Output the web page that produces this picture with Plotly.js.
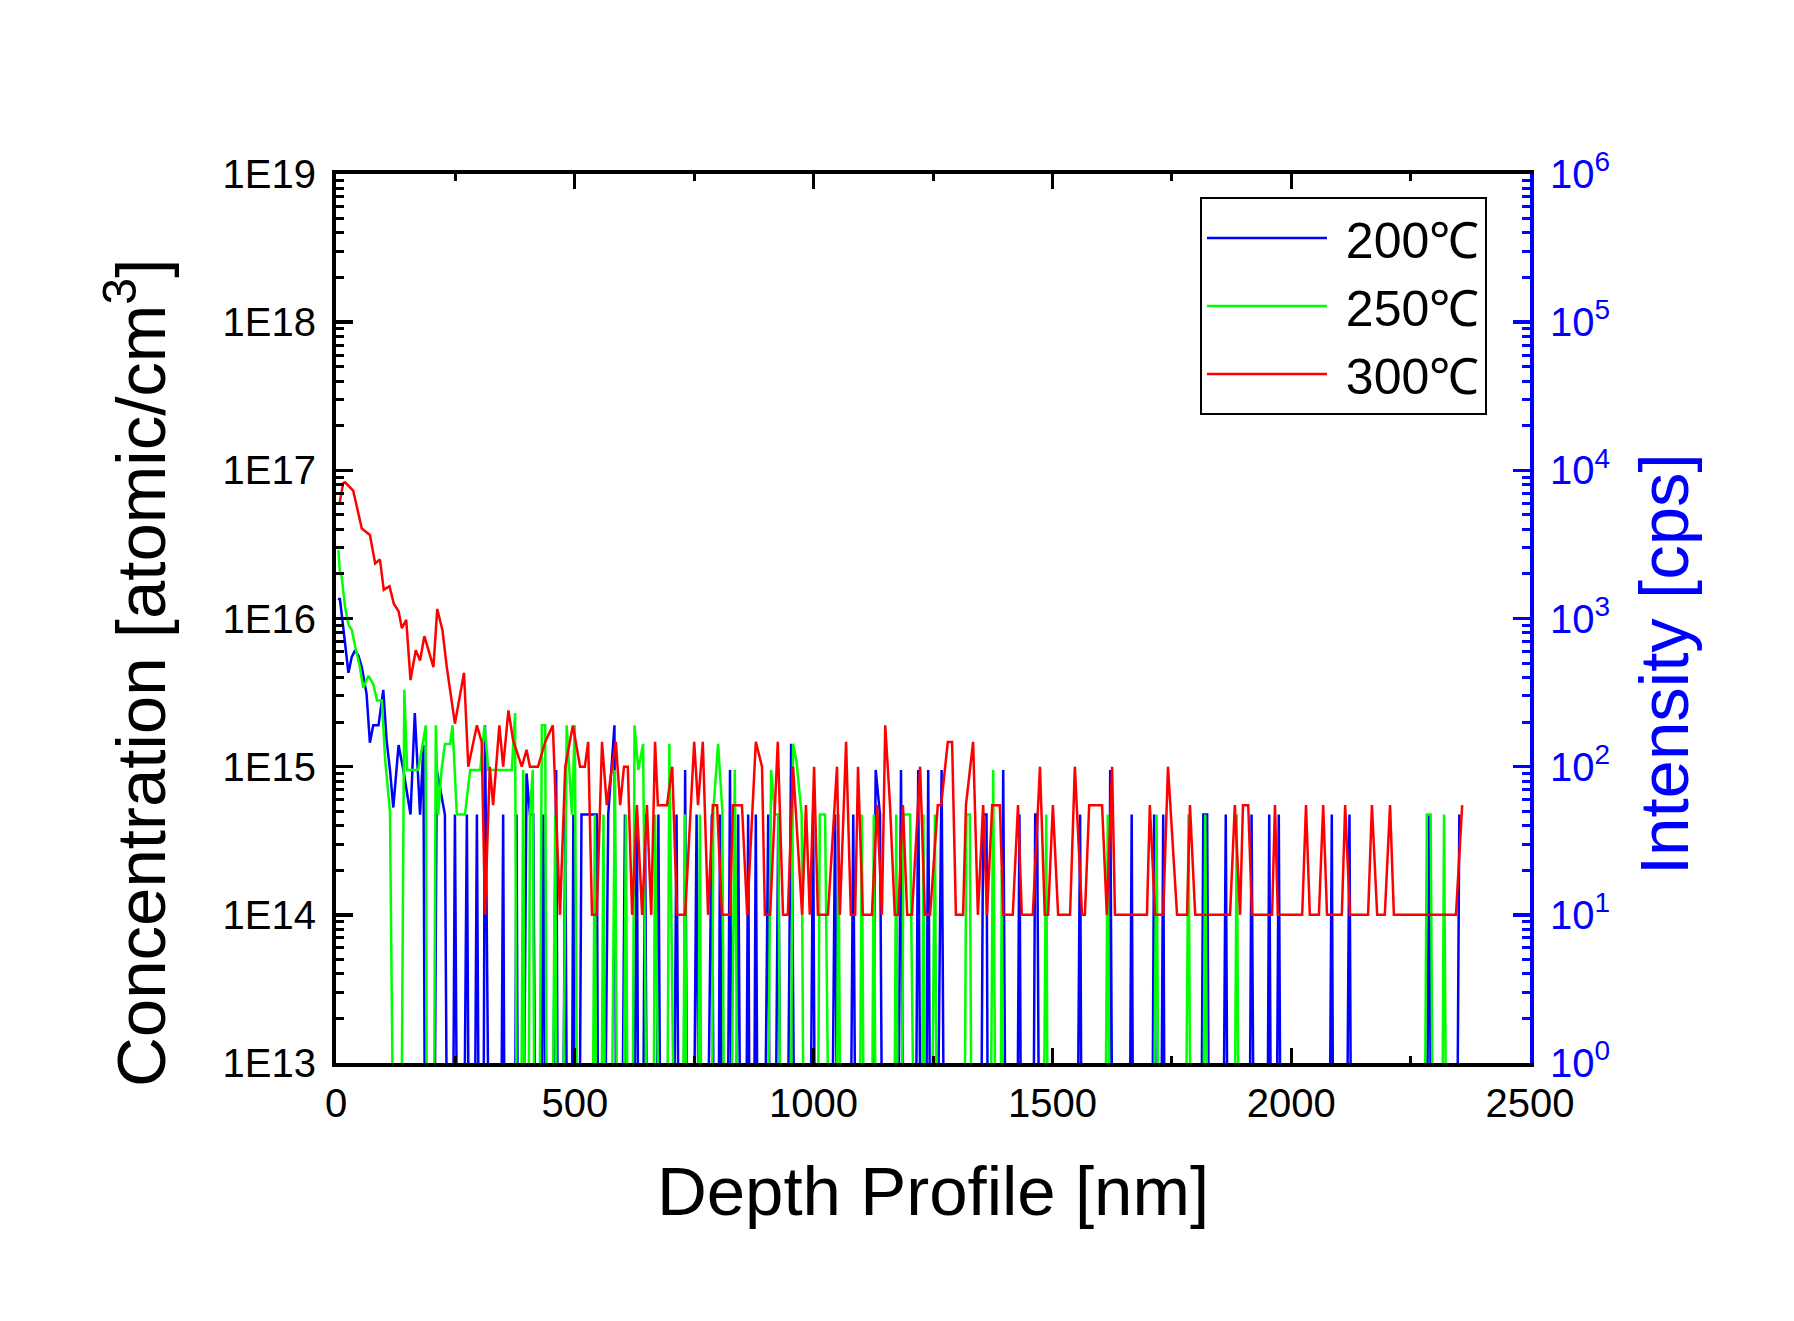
<!DOCTYPE html>
<html>
<head>
<meta charset="utf-8">
<script src="https://cdn.plot.ly/plotly-3.0.1.min.js"></script>
<style>html,body{margin:0;padding:0;background:#fff;}#chart{width:1794px;height:1321px;}</style>
</head>
<body>
<div id="chart"></div>
<script>
// Depth in nm, concentration in units of 1E14 atomic/cm3 (0 = below the axis floor)
const seriesNames = ['200℃', '250℃', '300℃'];
const seriesColors = ['#0000FF', '#00FF00', '#FF0000'];

const depth200 = [5,8,15,19,26,33,40,47,54,64, 71,78,89,99,106,113,120,131,141,156, 165,176,183,190,200,211,228,239,249,260,
  274,284,295,305,312,329,340,350,357,370, 378,385,399,406,413,424,434,445,461,469, 480,489,497,504,514,546,553,570,583,591,
  605,616,630,637,647,657,667,675,685,700, 713,724,731,741,755,766,787,797,804,814, 825,832,842,853,863,870,879,888,905,912,
  926,937,953,968,985,999,1008,1030,1045,1055, 1070,1083,1094,1115,1130,1139,1150,1170,1183,1195, 1208,1219,1230,1240,1249,1268,1279,1345,1355,1362,
  1369,1385,1397,1408,1420,1431,1439,1455,1464,1468, 1478,1545,1558,1565,1614,1621,1631,1656,1666,1673, 1704,1713,1722,1732,1739,1806,1816,1824,1833,1851,
  1863,1872,1907,1917,1928,1945,1954,1963,1974,1983, 2074,2085,2092,2109,2122,2130,2277,2289,2298,2341, 2352];
const conc200 = [133,137,88,68,43,55,61,56,47,31, 14.5,19,19,33,15,9.5,5.3,14,9.5,4.75, 23,4.75,14,0,0,9.5,4.75,0,4.75,0,
  4.75,0,4.75,0,19,0,0,4.75,0,0, 4.75,0,9,4.75,4.75,0,4.75,0,9.5,0, 4.75,0,4.75,0,4.75,4.75,0,4.75,19,0,
  4.75,0,4.75,0,4.75,0,0,4.75,0,0, 4.75,0,9.5,0,4.75,0,4.75,0,4.75,0, 9.5,0,4.75,0,4.75,0,4.75,0,4.75,0,
  4.75,0,14.25,0,0,4.75,0,0,4.75,0, 0,4.75,0,0,9.5,4.75,0,0,9.5,0, 0,9.5,0,9.5,0,9.5,0,0,4.75,4.75,
  0,0,9.5,0,0,4.75,0,0,4.75,4.75, 0,0,4.75,0,0,9.5,0,0,4.75,0, 0,4.75,0,4.75,0,0,4.75,4.75,0,0,
  4.75,0,0,4.75,0,0,4.75,0,4.75,0, 0,4.75,0,0,4.75,0,0,4.75,0,0, 4.75];

const depth250 = [5,8,12,19,26,33,40,50,57,68, 78,86,96,103,113,120,130,143,149,172, 188,193,200,209,214,221,228,239,244,253,
  270,281,302,311,319,368,375,382,392,399, 406,412,420,431,438,445,459,466,483,494, 500,511,530,542,549,560,568,584,595,607,
  616,625,633,643,651,660,668,677,688,698, 708,720,731,738,752,762,769,783,790,800, 809,818,835,849,895,911,919,926,937,946,
  957,964,975,985,1003,1013,1024,1034,1043,1052, 1062,1090,1101,1111,1117,1126,1136,1163,1173,1181, 1188,1202,1212,1222,1230,1238,1254,1263,1310,1320,
  1327,1336,1364,1376,1387,1394,1403,1474,1487,1495, 1603,1616,1625,1704,1718,1729,1771,1785,1795,1810, 1820,1831,1875,1886,1896,2273,2284,2292,2303,2311,
  2320,2331];
const conc250 = [290,210,190,120,91,84,65,47,34,41, 36,28,28,11,5,0,0,33,9.5,9.5, 19,0,0,19,4.75,9.5,14.25,14.25,19,4.75,
  4.75,9.5,9.5,19,9.5,9.5,23,0,9.5,0, 4.75,9.5,0,19,19,0,4.75,0,19,4.75, 19,0,0,4.75,0,4.75,0,9.5,0,4.75,
  0,19,9.5,14.25,0,0,4.75,0,0,14.25, 0,0,4.75,0,0,4.75,0,0,5,14.25, 5,0,9.5,0,0,9.5,4.75,4.75,0,0,
  14.25,11,4.75,0,0,4.75,4.75,0,0,4.75, 0,0,4.75,0,0,4.75,0,0,4.75,0, 4.75,4.75,0,0,4.75,0,4.75,0,0,4.75,
  4.75,0,0,9.5,0,2,0,0,4.75,0, 0,4.75,0,0,4.75,0,0,4.75,0,0, 4.75,0,0,4.75,0,0,4.75,4.75,0,0,
  4.75,0];

const depth300 = [8,15,19,36,54,71,82,92,100,112, 121,131,138,147,156,167,176,185,204,212, 223,232,249,268,277,295,305,312,322,329,
  342,350,361,371,389,399,406,423,438,454, 469,480,496,511,521,528,536,546,557,567, 578,586,595,603,611,620,630,641,651,660,
  668,674,693,704,714,731,750,758,768,779, 789,798,808,825,831,850,861,879,892,898, 909,925,936,946,957,976,984,992,1001,1009,
  1030,1049,1055,1068,1078,1087,1093,1103,1122,1133, 1143,1150,1160,1170,1177,1187,1196,1206,1223,1233, 1244,1260,1267,1281,1290,1298,1313,1319,1334,1344,
  1355,1363,1374,1390,1397,1417,1428,1436,1459,1474, 1484,1491,1501,1512,1537,1547,1562,1568,1577,1604, 1614,1625,1631,1662,1698,1704,1715,1732,1742,1761,
  1782,1788,1799,1872,1882,1893,1899,1910,1918,1960, 1966,1972,2023,2031,2039,2058,2067,2075,2106,2113, 2123,2161,2169,2180,2196,2207,2215,2345,2358];
const conc300 = [610,820,830,730,405,366,235,250,156,165, 126,112,86,98,38.4,61,52,76,47,116, 83,47,19.5,43,10,19,14.7,1,10,5.5,
  19,10,24,15,10,13,10,10,14.7,19, 1,10,19,10,10,14.7,1,1,14.7,5.5, 10,14.7,5.5,10,10,1,5.5,1,5.5,1,
  14.7,5.5,5.5,10,1,1,14.7,5.5,14.7,1, 5.5,5.5,1,1,5.5,5.5,1,14.7,10,1, 1,14.7,1,1,10,1,5.5,1,10,1,
  1,10,1,14.7,1,1,10,1,1,5.5, 1,19,5.5,1,1,5.5,1,1,10,1, 1,5.5,5.5,14.7,14.7,1,1,5.5,14.7,1,
  5.5,1,5.5,5.5,1,1,5.5,1,1,10, 1,1,5.5,1,1,10,1,1,5.5,5.5, 1,10,1,1,1,5.5,1,1,10,1,
  1,5.5,1,1,5.5,1,5.5,5.5,1,1, 5.5,1,1,5.5,1,1,5.5,1,1,5.5, 1,1,5.5,1,1,5.5,1,1,5.5];

// Axis tick labels and titles
const leftTickVals = [1e13,1e14,1e15,1e16,1e17,1e18,1e19];
const leftTickText = ['1E13','1E14','1E15','1E16','1E17','1E18','1E19'];
const rightTickVals = [1,10,100,1000,10000,100000,1000000];
const rightTickText = ['10<sup>0</sup>','10<sup>1</sup>','10<sup>2</sup>','10<sup>3</sup>','10<sup>4</sup>','10<sup>5</sup>','10<sup>6</sup>'];
const xTitle = 'Depth Profile [nm]';
const leftTitle = 'Concentration [atomic/cm<sup>3</sup>]';
const rightTitle = 'Intensity [cps]';

const UNIT = 1e14;
const FLOOR = 1e9; // zero counts: drawn below the axis floor and clipped
const toConc = arr => arr.map(v => v > 0 ? v * UNIT : FLOOR);

function minorLog(lo, hi) {
  const out = [];
  for (let e = lo; e < hi; e++) for (let m = 2; m <= 9; m++) out.push(m * Math.pow(10, e));
  return out;
}

const depths = [depth200, depth250, depth300];
const concs = [conc200, conc250, conc300];
const traces = depths.map((d, i) => ({
  type: 'scatter', mode: 'lines', x: d, y: toConc(concs[i]), name: '\u00a0' + seriesNames[i],
  line: {color: seriesColors[i], width: 2.5}, hoverinfo: 'skip'
}));
traces.push({type: 'scatter', mode: 'lines', x: [], y: [], yaxis: 'y2', showlegend: false, hoverinfo: 'skip'});

const FONT = 'Arial, "Liberation Sans", sans-serif';
const layout = {
  width: 1794, height: 1321,
  margin: {l: 336, r: 264, t: 174, b: 258, pad: 0},
  paper_bgcolor: '#fff', plot_bgcolor: '#fff',
  font: {family: FONT, color: '#000', size: 40},
  hovermode: false,
  showlegend: true,
  legend: {
    x: 0.7236, y: 0.974, xanchor: 'left', yanchor: 'top',
    bgcolor: '#fff', bordercolor: '#000', borderwidth: 2,
    font: {family: FONT, size: 50, color: '#000'},
    itemwidth: 120, tracegroupgap: 0
  },
  xaxis: {
    range: [0, 2500], tickmode: 'linear', tick0: 0, dtick: 500,
    ticks: 'inside', ticklen: 15, tickwidth: 3, tickcolor: '#000',
    minor: {dtick: 250, tick0: 0, ticks: 'inside', ticklen: 7, tickwidth: 3, tickcolor: '#000', showgrid: false},
    showline: true, linewidth: 4, linecolor: '#000', mirror: 'ticks',
    showgrid: false, zeroline: false,
    tickfont: {family: FONT, size: 40, color: '#000'},
    ticklabelstandoff: 2,
    title: {text: xTitle, font: {family: FONT, size: 69, color: '#000'}, standoff: 44},
    automargin: false
  },
  yaxis: {
    type: 'log', range: [13, 19],
    tickmode: 'array', tickvals: leftTickVals, ticktext: leftTickText,
    ticks: 'inside', ticklen: 17, tickwidth: 3.5, tickcolor: '#000',
    minor: {tickmode: 'array', tickvals: minorLog(13, 19), ticks: 'inside', ticklen: 8, tickwidth: 3, tickcolor: '#000', showgrid: false},
    showline: true, linewidth: 4, linecolor: '#000', mirror: false,
    showgrid: false, zeroline: false,
    tickfont: {family: FONT, size: 40, color: '#000'},
    ticklabelstandoff: 8,
    automargin: false
  },
  yaxis2: {
    type: 'log', range: [0, 6], overlaying: 'y', side: 'right', anchor: 'x',
    tickmode: 'array', tickvals: rightTickVals, ticktext: rightTickText,
    ticks: 'inside', ticklen: 17, tickwidth: 3.5, tickcolor: '#0000FF',
    minor: {tickmode: 'array', tickvals: minorLog(0, 6), ticks: 'inside', ticklen: 8, tickwidth: 3, tickcolor: '#0000FF', showgrid: false},
    showline: true, linewidth: 4, linecolor: '#0000FF',
    showgrid: false, zeroline: false,
    tickfont: {family: FONT, size: 40, color: '#0000FF'},
    ticklabelstandoff: 8,
    automargin: false
  },
  annotations: [
    {text: leftTitle, textangle: -90, xref: 'paper', yref: 'paper', x: -0.1675, y: 0.4387,
     xanchor: 'center', yanchor: 'middle', showarrow: false, font: {family: FONT, size: 69, color: '#000'}},
    {text: rightTitle, textangle: -90, xref: 'paper', yref: 'paper', x: 1.1123, y: 0.4488,
     xanchor: 'center', yanchor: 'middle', showarrow: false, font: {family: FONT, size: 69, color: '#0000FF'}}
  ]
};

Plotly.newPlot('chart', traces, layout, {staticPlot: true, displayModeBar: false});
</script>
</body>
</html>
